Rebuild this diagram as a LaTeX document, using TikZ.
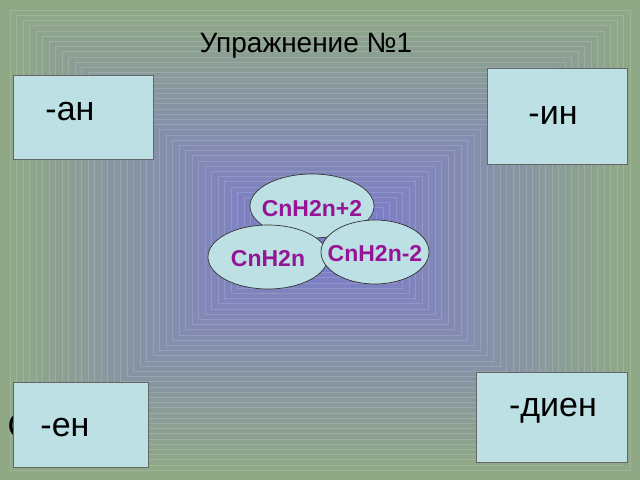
\documentclass[tikz,border=0pt]{standalone}
\usepackage{fontspec}
\setmainfont{Liberation Sans}
\definecolor{outerc}{RGB}{143,168,134}
\definecolor{innerc}{RGB}{124,124,200}
\definecolor{boxc}{RGB}{188,224,228}
\definecolor{formc}{RGB}{150,20,150}
\tikzset{
  lbox/.style={draw=black!60,fill=boxc,line width=0.8pt},
  lbl/.style={font=\fontsize{34}{36}\selectfont},
  form/.style={font=\bfseries\fontsize{23}{25}\selectfont,text=formc}
}
\begin{document}
\begin{tikzpicture}[x=1pt,y=-1pt]
\useasboundingbox (0,0) rectangle (640,480);
\fill[outerc] (0,0) rectangle (640,480);
\foreach \i in {0,...,40}{
  \pgfmathsetmacro{\p}{100*\i/40}
  \pgfmathsetmacro{\dx}{10+6.5*\i}
  \pgfmathsetmacro{\dy}{10+5.2*\i}
  \fill[innerc!\p!outerc] (\dx,\dy) rectangle (640-\dx,480-\dy);
  \draw[white,opacity=0.15,line width=0.5pt] (\dx,\dy) rectangle (640-\dx,480-\dy);
}
\node[font=\fontsize{28}{30}\selectfont] (title) at (306,46) {Упражнение №1};
\node[lbl] (hid) at (20,426) {С};
\draw[lbox] (13,75) rectangle (153,159);
\node[lbl] (an) at (70,112) {-ан};
\draw[lbox] (487,68) rectangle (627,164);
\node[lbl] (in) at (553,116) {-ин};
\draw[lbox] (13,382) rectangle (148,467);
\node[lbl] (en) at (65,428) {-ен};
\draw[lbox] (476,372) rectangle (627,462);
\node[lbl] (dien) at (553,411) {-диен};
\draw[draw=black!80,fill=boxc,line width=0.7pt] (312,206) ellipse [x radius=62,y radius=32];
\node[form] (f1) at (312,209) {CnH2n+2};
\draw[draw=black!80,fill=boxc,line width=0.7pt] (268,257) ellipse [x radius=60,y radius=32];
\node[form] (f2) at (268,259) {CnH2n};
\draw[draw=black!80,fill=boxc,line width=0.7pt] (375,252) ellipse [x radius=54,y radius=32];
\node[form] (f3) at (375,254) {CnH2n-2};
\end{tikzpicture}
\end{document}
